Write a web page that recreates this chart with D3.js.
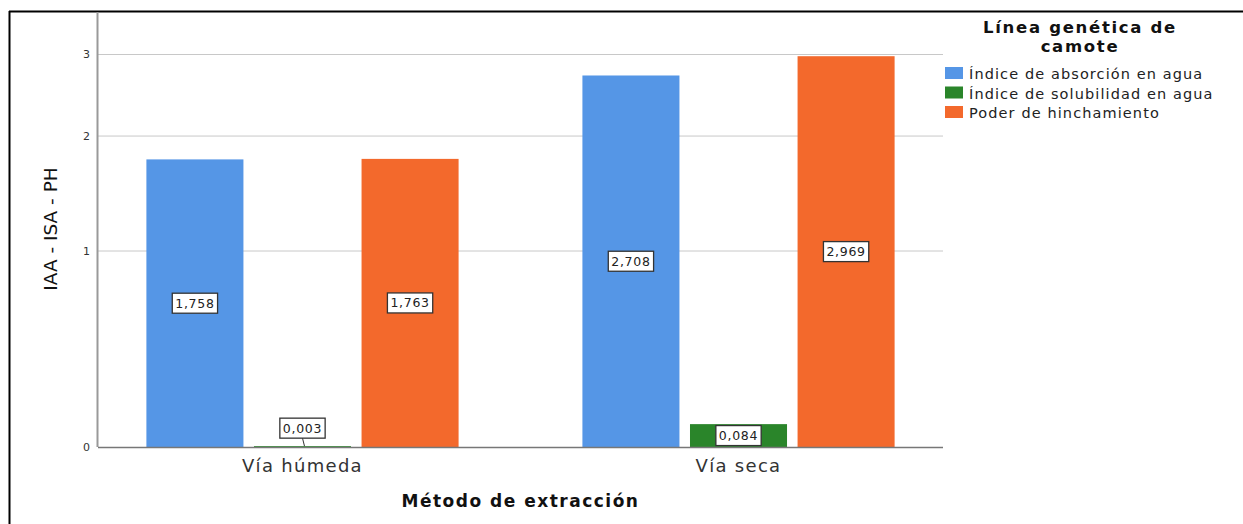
<!DOCTYPE html>
<html>
<head>
<meta charset="utf-8">
<script src="https://cdn.jsdelivr.net/npm/d3@7"></script>
<style>
  body { margin: 0; background: #fff; }
  text { font-family: "DejaVu Sans", Verdana, sans-serif; }
</style>
</head>
<body>
<div id="chart"></div>
<script>
// data
var categories = ["Vía húmeda", "Vía seca"];
var seriesNames = ["Índice de absorción en agua", "Índice de solubilidad en agua", "Poder de hinchamiento"];
var seriesColors = ["#5596e6", "#2a852a", "#f3692c"];
var iaaValues = [1.758, 2.708];
var isaValues = [0.003, 0.084];
var phValues = [1.763, 2.969];
var yTicks = [0, 1, 2, 3];

var svgWidth = 1243, svgHeight = 524;

var svg = d3.select("#chart").append("svg")
  .attr("width", svgWidth)
  .attr("height", svgHeight);

// outer frame (top and left visible)
svg.append("line").attr("x1", 9).attr("x2", svgWidth).attr("y1", 11.5).attr("y2", 11.5)
  .attr("stroke", "#000").attr("stroke-width", 2);
svg.append("line").attr("x1", 9.5).attr("x2", 9.5).attr("y1", 11).attr("y2", svgHeight)
  .attr("stroke", "#000").attr("stroke-width", 2);

var plot = { left: 98, right: 943, top: 12, bottom: 447 };

// build rows
var rows = categories.map(function(c, i) {
  return { cat: c, vals: [iaaValues[i], isaValues[i], phValues[i]] };
});

var x0 = d3.scaleBand()
  .domain(categories)
  .range([plot.left, plot.right])
  .paddingInner(0.284)
  .paddingOuter(0.111);

var x1 = d3.scaleBand()
  .domain(d3.range(seriesNames.length))
  .range([0, x0.bandwidth()])
  .paddingInner(0.098)
  .paddingOuter(0);

// axis is compressed: log(1 + x)
var y = d3.scaleSymlog()
  .constant(1)
  .domain([0, 3])
  .range([plot.bottom, 54]);

// gridlines
svg.append("g").selectAll("line")
  .data(yTicks.filter(function(t) { return t > 0; }))
  .enter().append("line")
  .attr("x1", plot.left).attr("x2", plot.right)
  .attr("y1", function(d) { return y(d) + 0.5; })
  .attr("y2", function(d) { return y(d) + 0.5; })
  .attr("stroke", "#c8c8c8")
  .attr("stroke-width", 1);

// y axis
var yAxis = d3.axisLeft(y).tickValues(yTicks).tickSize(0).tickPadding(8)
  .tickFormat(d3.format("d"));
var yG = svg.append("g")
  .attr("transform", "translate(" + plot.left + ",0)")
  .call(yAxis);
yG.select(".domain").remove();
yG.selectAll("text").attr("font-size", 11).attr("fill", "#333")
  .attr("font-family", "DejaVu Sans, Verdana, sans-serif");

svg.append("line")
  .attr("x1", plot.left - 0.5).attr("x2", plot.left - 0.5)
  .attr("y1", plot.top).attr("y2", plot.bottom)
  .attr("stroke", "#999").attr("stroke-width", 2);

// bars
var groups = svg.append("g").selectAll("g")
  .data(rows)
  .enter().append("g")
  .attr("transform", function(d) { return "translate(" + x0(d.cat) + ",0)"; });

groups.selectAll("rect")
  .data(function(d) { return d.vals.map(function(v, i) { return { i: i, v: v }; }); })
  .enter().append("rect")
  .attr("x", function(d) { return x1(d.i); })
  .attr("width", x1.bandwidth())
  .attr("y", function(d) { return y(d.v); })
  .attr("height", function(d) { return Math.max(1, y(0) - y(d.v)); })
  .attr("fill", function(d) { return seriesColors[d.i]; });

// x axis baseline
svg.append("line")
  .attr("x1", plot.left).attr("x2", plot.right)
  .attr("y1", plot.bottom + 0.5).attr("y2", plot.bottom + 0.5)
  .attr("stroke", "#777").attr("stroke-width", 1.5);

// value labels
var fmt = function(v) { return d3.format(".3f")(v).replace(".", ","); };
groups.each(function(row) {
  var g = d3.select(this);
  row.vals.forEach(function(v, i) {
    var cx = x1(i) + x1.bandwidth() / 2;
    var top = y(v);
    var h = y(0) - top;
    var cy = (top + y(0)) / 2;
    var small = h < 20;
    if (small) {
      cy = top - 18;
      g.append("line")
        .attr("x1", cx).attr("y1", cy + 10)
        .attr("x2", cx + 2).attr("y2", top)
        .attr("stroke", "#333").attr("stroke-width", 1);
    }
    var lbl = g.append("g").attr("transform", "translate(" + cx + "," + cy + ")");
    var t = lbl.append("text")
      .attr("text-anchor", "middle")
      .attr("dy", "0.36em")
      .attr("font-size", 12.5)
      .attr("letter-spacing", 0.7)
      .attr("fill", "#222")
      .text(fmt(v));
    var w = t.node().getComputedTextLength() + 6;
    lbl.insert("rect", "text")
      .attr("x", -w / 2).attr("y", -10)
      .attr("width", w).attr("height", 20)
      .attr("fill", "#fff")
      .attr("stroke", "#333").attr("stroke-width", 1.3);
  });
});

// category labels
svg.append("g").selectAll("text")
  .data(categories)
  .enter().append("text")
  .attr("x", function(d) { return x0(d) + x0.bandwidth() / 2; })
  .attr("y", 472)
  .attr("text-anchor", "middle")
  .attr("font-size", 18)
  .attr("letter-spacing", 1.3)
  .attr("fill", "#333")
  .text(function(d) { return d; });

// axis titles
svg.append("text")
  .attr("x", (plot.left + plot.right) / 2)
  .attr("y", 507)
  .attr("text-anchor", "middle")
  .attr("font-size", 17)
  .attr("font-weight", "bold")
  .attr("letter-spacing", 1.5)
  .attr("fill", "#111")
  .text("Método de extracción");

svg.append("text")
  .attr("transform", "translate(57,229) rotate(-90)")
  .attr("text-anchor", "middle")
  .attr("font-family", "Liberation Sans, Arial, sans-serif")
  .attr("font-size", 18.5)
  .attr("fill", "#111")
  .text("IAA - ISA - PH");

// legend
var legend = svg.append("g");
legend.append("text")
  .attr("x", 1080).attr("y", 33)
  .attr("text-anchor", "middle")
  .attr("font-size", 16.5).attr("font-weight", "bold").attr("fill", "#111")
  .attr("letter-spacing", 1.7)
  .text("Línea genética de");
legend.append("text")
  .attr("x", 1080).attr("y", 52)
  .attr("text-anchor", "middle")
  .attr("font-size", 16.5).attr("font-weight", "bold").attr("fill", "#111")
  .attr("letter-spacing", 1.7)
  .text("camote");

var items = legend.selectAll("g.item")
  .data(seriesNames)
  .enter().append("g")
  .attr("class", "item")
  .attr("transform", function(d, i) { return "translate(945," + (67 + i * 19.5) + ")"; });
items.append("rect")
  .attr("width", 18).attr("height", 12)
  .attr("fill", function(d, i) { return seriesColors[i]; });
items.append("text")
  .attr("x", 24).attr("y", 12)
  .attr("font-size", 14.5)
  .attr("letter-spacing", 1.1)
  .attr("fill", "#222")
  .text(function(d) { return d; });
</script>
</body>
</html>
